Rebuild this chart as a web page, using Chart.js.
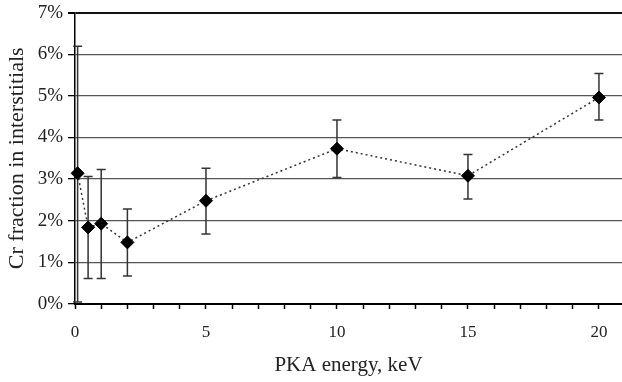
<!DOCTYPE html>
<html>
<head>
<meta charset="utf-8">
<script src="https://cdn.jsdelivr.net/npm/chart.js@4"></script>
<style>
  body { margin: 0; background: #fff; }
  canvas { display: block; }
</style>
</head>
<body>
<canvas id="crChart" width="622" height="382"></canvas>
<script>
// PKA energy (keV) and Cr fraction in interstitials (%)
const energies = [0.1, 0.5, 1, 2, 5, 10, 15, 20];
const fractions = [3.14, 1.84, 1.93, 1.48, 2.48, 3.73, 3.08, 4.96];
// error bar ends (%)
const errHigh = [6.19, 3.06, 3.23, 2.28, 3.26, 4.42, 3.59, 5.54];
const errLow = [0.05, 0.61, 0.61, 0.67, 1.68, 3.04, 2.52, 4.42];
// tick marks every keV, labels only on these
const xTicks = [0, 1, 2, 3, 4, 5, 6, 7, 8, 9, 10, 11, 12, 13, 14, 15, 16, 17, 18, 19, 20];
const xLabels = [0, 5, 10, 15, 20];

const serif = "'Liberation Serif', 'DejaVu Serif', serif";

// draws the vertical error bars with caps
const errorBars = {
  id: 'errorBars',
  beforeDatasetsDraw(chart) {
    const x = chart.scales.x, y = chart.scales.y;
    const c = chart.ctx;
    c.save();
    c.strokeStyle = '#333';
    c.lineWidth = 1.5;
    for (let i = 0; i < energies.length; i++) {
      const px = x.getPixelForValue(energies[i]);
      const top = y.getPixelForValue(errHigh[i]);
      const bot = y.getPixelForValue(errLow[i]);
      c.beginPath();
      c.moveTo(px, top); c.lineTo(px, bot);
      c.moveTo(px - 4.5, top); c.lineTo(px + 4.5, top);
      c.moveTo(px - 4.5, bot); c.lineTo(px + 4.5, bot);
      c.stroke();
    }
    c.restore();
  }
};

const ctx = document.getElementById('crChart');

const chart = new Chart(ctx, {
  type: 'scatter',
  data: {
    datasets: [{
      data: energies.map((e, i) => ({x: e, y: fractions[i]})),
      showLine: true,
      borderColor: '#333',
      borderWidth: 1.5,
      borderDash: [2, 3],
      pointStyle: 'rectRot',
      pointRadius: 6.5,
      pointBackgroundColor: '#000',
      pointBorderColor: '#000',
      pointBorderWidth: 1,
      clip: false
    }]
  },
  options: {
    responsive: false,
    animation: false,
    events: [],
    // no extra room for the markers: the plot runs to the right edge
    layout: { padding: 0, autoPadding: false },
    plugins: { legend: { display: false }, tooltip: { enabled: false } },
    scales: {
      x: {
        type: 'linear',
        min: 0,
        max: 20.88,
        afterBuildTicks: function(axis) {
          axis.ticks = xTicks.map(v => ({value: v}));
        },
        afterFit: function(axis) {
          axis.height = 78;
          axis.paddingRight = 0;
          axis.paddingLeft = 0;
        },
        ticks: {
          autoSkip: false,
          maxRotation: 0,
          padding: 13,
          color: '#222',
          font: { family: serif, size: 17 },
          callback: function(value) {
            return xLabels.includes(value) ? String(value) : '';
          }
        },
        grid: {
          drawOnChartArea: false,
          drawTicks: true,
          tickLength: 5,
          tickColor: '#000',
          tickWidth: 1.5
        },
        border: { color: '#000', width: 2 },
        title: {
          display: true,
          text: 'PKA energy, keV',
          color: '#222',
          font: { family: serif, size: 21 },
          padding: { top: 4, bottom: 4 }
        }
      },
      y: {
        min: 0,
        max: 7,
        afterFit: function(axis) { axis.width = 75; },
        ticks: {
          stepSize: 1,
          padding: 5,
          color: '#222',
          font: { family: serif, size: 19, lineHeight: 0.8 },
          callback: function(value) { return value + '%'; }
        },
        grid: {
          color: function(c) { return c.tick && c.tick.value === 7 ? '#111' : '#555'; },
          lineWidth: function(c) { return c.tick && c.tick.value === 7 ? 2 : 1.3; },
          tickLength: 7,
          tickColor: '#000'
        },
        border: { color: '#000', width: 1.5 },
        title: {
          display: true,
          text: 'Cr fraction in interstitials',
          color: '#222',
          font: { family: serif, size: 22 },
          padding: { top: 4, bottom: 4 }
        }
      }
    }
  },
  plugins: [errorBars]
});
</script>
</body>
</html>
